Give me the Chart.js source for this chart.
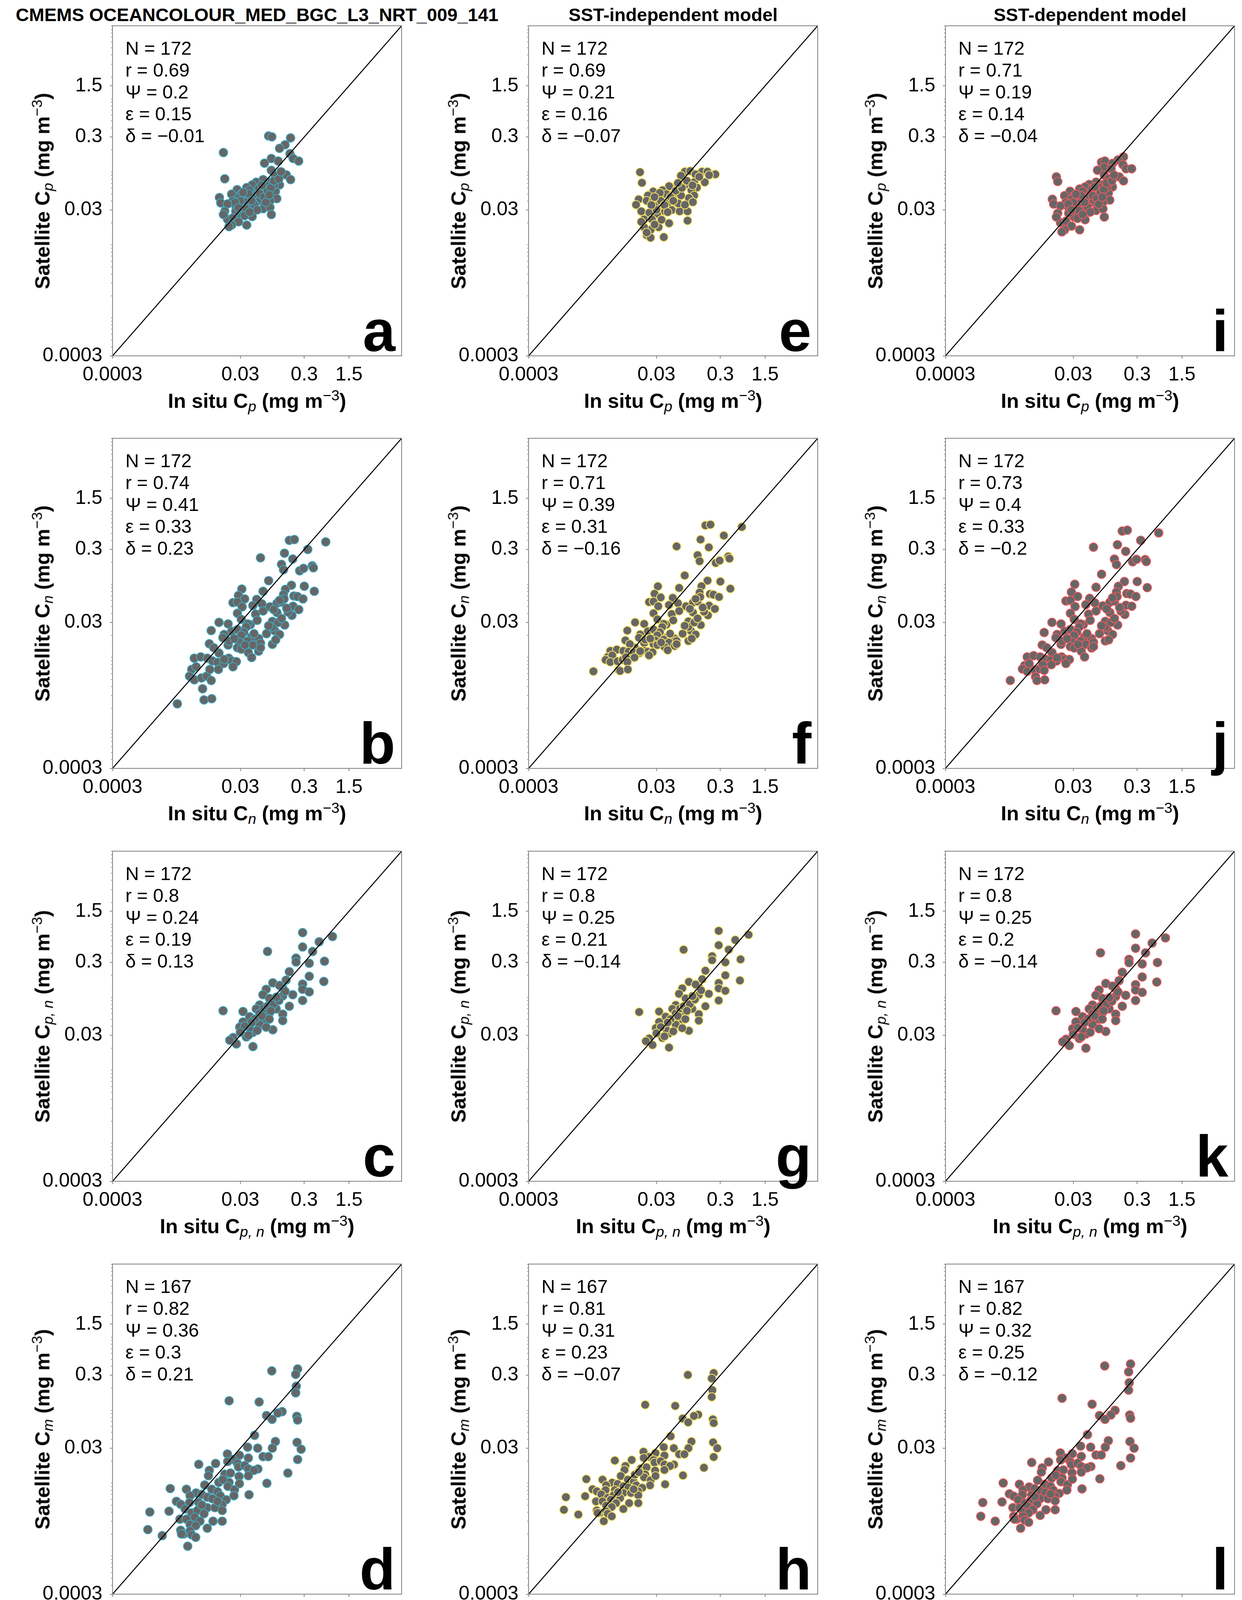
<!DOCTYPE html>
<html>
<head>
<meta charset="utf-8">
<script src="https://cdn.jsdelivr.net/npm/chart.js@4.4.1/dist/chart.umd.min.js"></script>
<style>
html, body { margin: 0; padding: 0; background: #fff; }
#page {
    position: relative;
    width: 3179px;
    height: 4255px;
    overflow: hidden;
    background: #fff;
    color: #000;
    font-family: "Liberation Sans", Arial, Helvetica, sans-serif;
}
#page canvas { position: absolute; }
.coltitle { position: absolute; width: 1600px; text-align: center; font-weight: bold; font-size: 47px; line-height: 47px; white-space: nowrap; }
.stats { position: absolute; font-size: 48px; line-height: 56px; white-space: nowrap; }
.letter { position: absolute; width: 300px; text-align: right; font-weight: bold; font-size: 150px; line-height: 150px; }
.xt { position: absolute; text-align: center; font-weight: bold; font-size: 52px; line-height: 52px; white-space: nowrap; }
.yt { position: absolute; text-align: center; font-weight: bold; font-size: 52px; line-height: 52px; white-space: nowrap; transform: rotate(-90deg); transform-origin: 50% 50%; }
.sb { position: relative; top: 0.24em; font-size: 0.72em; font-style: italic; font-weight: normal; }
.sp { position: relative; top: -0.52em; font-size: 0.72em; font-weight: normal; }
</style>
</head>
<body>
<div id="page"></div>
<script>
// axis range and ticks (same for every panel, both axes)
const axisMin = 0.0003;
const axisMax = 10;
const tickValues = [0.0003, 0.03, 0.3, 1.5];
const tickLabels = ["0.0003", "0.03", "0.3", "1.5"];

const colTitles = [
    "CMEMS OCEANCOLOUR_MED_BGC_L3_NRT_009_141",
    "SST-independent model",
    "SST-dependent model"
];
const rowSubscripts = ["p", "n", "p, n", "m"];
const edgeColors = ["#3FA8BF", "#F6E163", "#EE5A5E"];
const markerFill = "#666666";
const frameColor = "#808080";

// panel order: a b c d (CMEMS), e f g h (SST-independent), i j k l (SST-dependent)
const panelLetters = ["a", "b", "c", "d", "e", "f", "g", "h", "i", "j", "k", "l"];
const statN = [172, 172, 172, 167, 172, 172, 172, 167, 172, 172, 172, 167];
const statR = ["0.69", "0.74", "0.8", "0.82", "0.69", "0.71", "0.8", "0.81", "0.71", "0.73", "0.8", "0.82"];
const statPsi = ["0.2", "0.41", "0.24", "0.36", "0.21", "0.39", "0.25", "0.31", "0.19", "0.4", "0.25", "0.32"];
const statEps = ["0.15", "0.33", "0.19", "0.3", "0.16", "0.31", "0.21", "0.23", "0.14", "0.33", "0.2", "0.25"];
const statDelta = ["\u22120.01", "0.23", "0.13", "0.21", "\u22120.07", "\u22120.16", "\u22120.14", "\u22120.07", "\u22120.04", "\u22120.2", "\u22120.14", "\u22120.12"];

// [in situ, satellite] in mg m-3

// Cp
const cpCmems = [
    [0.083,0.309],[0.0933,0.301],[0.183,0.291],[0.0163,0.183],[0.150,0.234],[0.123,0.209],[0.179,0.177],[0.201,0.152],
    [0.245,0.140],[0.0916,0.152],[0.0716,0.131],[0.117,0.140],[0.0916,0.1045],[0.157,0.0906],[0.183,0.078],[0.106,0.0883],
    [0.0171,0.080],[0.123,0.066],[0.0871,0.0718],[0.0681,0.078],[0.0532,0.0718],[0.0459,0.066],[0.0377,0.0607],[0.0267,0.0569],
    [0.0219,0.0493],[0.0309,0.0493],[0.0395,0.0454],[0.0558,0.0536],[0.0752,0.0493],[0.106,0.0536],[0.1114,0.0428],[0.0871,0.040],
    [0.0649,0.040],[0.0532,0.0473],[0.0482,0.0368],[0.0681,0.0312],[0.0871,0.0325],[0.0916,0.0259],[0.0617,0.0428],[0.0359,0.0384],
    [0.0281,0.0436],[0.0230,0.040],[0.0141,0.0443],[0.0148,0.0374],[0.0189,0.0362],[0.0254,0.0339],[0.0325,0.0299],[0.0437,0.0312],
    [0.0459,0.0243],[0.0309,0.0259],[0.0254,0.0287],[0.0171,0.0287],[0.0189,0.0223],[0.0230,0.0233],[0.0281,0.0206],[0.0219,0.0186],
    [0.0199,0.0177],[0.0377,0.0186],[0.0163,0.0259],[0.0416,0.0558],[0.0359,0.0312],[0.0587,0.0597],[0.0789,0.0634],[0.101,0.066],
    [0.030,0.040],[0.040,0.050],[0.050,0.035],[0.060,0.050],[0.035,0.025],[0.045,0.040],[0.070,0.045],[0.080,0.055],
    [0.025,0.038],[0.055,0.030],[0.065,0.065],[0.090,0.060],[0.100,0.075],[0.120,0.080],[0.033,0.052],[0.028,0.032],
    [0.042,0.028],[0.075,0.038],[0.085,0.048],[0.130,0.100]
];
const cpSstInd = [
    [0.0166,0.0986],[0.0178,0.0706],[0.0838,0.1002],[0.101,0.102],[0.155,0.1002],[0.188,0.1002],[0.250,0.0923],[0.1225,0.0923],
    [0.0726,0.0883],[0.1167,0.0718],[0.0838,0.066],[0.171,0.0718],[0.1285,0.0607],[0.106,0.0558],[0.1167,0.0473],[0.0966,0.0436],
    [0.1114,0.0384],[0.063,0.066],[0.0473,0.0634],[0.0373,0.0558],[0.0267,0.0536],[0.0221,0.0473],[0.0158,0.0418],[0.0144,0.0353],
    [0.0174,0.0287],[0.0211,0.040],[0.0267,0.040],[0.0324,0.0436],[0.0431,0.0493],[0.0573,0.0514],[0.0726,0.0473],[0.060,0.0384],
    [0.0451,0.0368],[0.0373,0.0312],[0.052,0.0299],[0.0692,0.0287],[0.092,0.0287],[0.092,0.0214],[0.0473,0.0197],[0.0308,0.0264],
    [0.0232,0.0275],[0.0192,0.0223],[0.0255,0.0223],[0.0324,0.0174],[0.0243,0.016],[0.0192,0.0174],[0.0211,0.01355],[0.0243,0.0125],
    [0.0391,0.0127],[0.0174,0.0206],[0.0294,0.0339],[0.066,0.0368],[0.0838,0.0353],[0.0339,0.0514],[0.041,0.0287],[0.0281,0.0189],
    [0.0211,0.0147],
    [0.035,0.040],[0.050,0.045],[0.060,0.055],[0.030,0.030],[0.040,0.035],[0.075,0.060],[0.090,0.075],[0.140,0.085],
    [0.200,0.090],[0.055,0.040],[0.045,0.028],[0.028,0.045],[0.065,0.070],[0.110,0.065],[0.025,0.035],[0.036,0.022]
];
const cpSstDep = [
    [0.083,0.135],[0.0933,0.14],[0.183,0.16],[0.0163,0.085],[0.150,0.145],[0.123,0.13],[0.179,0.125],[0.201,0.11],
    [0.245,0.11],[0.0916,0.115],[0.0716,0.105],[0.117,0.11],[0.0916,0.09],[0.157,0.085],[0.183,0.075],[0.106,0.08],
    [0.0171,0.0735],[0.123,0.062],[0.0871,0.067],[0.0681,0.072],[0.0532,0.067],[0.0459,0.062],[0.0377,0.058],[0.0267,0.054],
    [0.0219,0.047],[0.0309,0.047],[0.0395,0.044],[0.0558,0.051],[0.0752,0.047],[0.106,0.051],[0.1114,0.041],[0.0871,0.038],
    [0.0649,0.038],[0.0532,0.045],[0.0482,0.035],[0.0681,0.0295],[0.0871,0.031],[0.0916,0.024],[0.0617,0.041],[0.0359,0.037],
    [0.0281,0.042],[0.0230,0.038],[0.0141,0.042],[0.0148,0.036],[0.0189,0.034],[0.0254,0.032],[0.0325,0.028],[0.0437,0.0295],
    [0.0459,0.022],[0.0309,0.024],[0.0254,0.027],[0.0171,0.027],[0.0189,0.020],[0.0230,0.021],[0.0281,0.018],[0.0219,0.016],
    [0.0199,0.015],[0.0377,0.016],[0.0163,0.024],[0.0416,0.054],[0.0359,0.0295],[0.0587,0.058],[0.0789,0.06],[0.101,0.062],
    [0.030,0.038],[0.040,0.047],[0.050,0.033],[0.060,0.047],[0.035,0.023],[0.045,0.038],[0.070,0.043],[0.080,0.052],
    [0.025,0.036],[0.055,0.028],[0.065,0.062],[0.090,0.057],[0.100,0.07],[0.120,0.075],[0.033,0.049],[0.028,0.030],
    [0.042,0.026],[0.075,0.036],[0.085,0.045],[0.130,0.09]
];

// Cn
const cnCmems = [
    [0.175,0.40],[0.21,0.41],[0.65,0.38],[0.34,0.30],[0.147,0.266],[0.062,0.23],[0.198,0.222],[0.132,0.187],
    [0.142,0.158],[0.254,0.153],[0.292,0.165],[0.40,0.179],[0.416,0.168],[0.083,0.112],[0.30,0.094],[0.43,0.080],
    [0.189,0.097],[0.152,0.085],[0.142,0.072],[0.206,0.069],[0.234,0.068],[0.286,0.063],[0.068,0.080],[0.0316,0.086],
    [0.028,0.070],[0.035,0.063],[0.023,0.056],[0.027,0.057],[0.032,0.049],[0.054,0.062],[0.047,0.051],[0.065,0.054],
    [0.087,0.049],[0.112,0.055],[0.132,0.057],[0.20,0.050],[0.246,0.045],[0.192,0.0375],[0.167,0.0416],[0.027,0.040],
    [0.031,0.033],[0.052,0.039],[0.068,0.043],[0.112,0.041],[0.0139,0.030],[0.0193,0.0286],[0.0105,0.0232],[0.095,0.031],
    [0.148,0.0276],[0.043,0.028],[0.055,0.032],[0.039,0.0286],[0.037,0.026],[0.022,0.0227],[0.027,0.024],[0.034,0.022],
    [0.0167,0.0205],[0.016,0.0185],[0.031,0.020],[0.045,0.019],[0.058,0.018],[0.049,0.021],[0.077,0.021],[0.104,0.023],
    [0.123,0.0205],[0.095,0.015],[0.107,0.0173],[0.0098,0.0153],[0.0193,0.0147],[0.020,0.0166],[0.029,0.016],[0.039,0.0166],
    [0.047,0.0147],[0.062,0.0156],[0.027,0.0135],[0.031,0.0129],[0.040,0.0116],[0.045,0.0099],[0.058,0.0121],[0.062,0.0135],
    [0.0139,0.0114],[0.0115,0.0135],[0.0057,0.0097],[0.0072,0.0101],[0.0091,0.0097],[0.011,0.0089],[0.0132,0.0085],[0.0164,0.0082],
    [0.0197,0.0097],[0.022,0.0089],[0.026,0.0087],[0.023,0.0074],[0.0136,0.0068],[0.0167,0.0093],[0.0052,0.0068],[0.0061,0.0074],
    [0.0048,0.0055],[0.0057,0.0049],[0.0074,0.0052],[0.0089,0.0055],[0.010,0.0068],[0.0105,0.0048],[0.0077,0.0037],[0.0081,0.0026],
    [0.0107,0.0027],[0.0031,0.0023],[0.095,0.026],[0.083,0.027],[0.117,0.030],[0.132,0.034],[0.159,0.047],[0.10,0.045],
    [0.145,0.063],[0.123,0.060],[0.024,0.018],[0.0355,0.0147]
];
const cnSstInd = [
    [0.175,0.64],[0.21,0.656],[0.65,0.61],[0.34,0.465],[0.147,0.41],[0.062,0.33],[0.198,0.32],[0.132,0.25],
    [0.142,0.207],[0.254,0.196],[0.292,0.211],[0.40,0.24],[0.416,0.225],[0.083,0.132],[0.30,0.109],[0.43,0.087],
    [0.189,0.112],[0.152,0.094],[0.142,0.077],[0.206,0.0735],[0.234,0.072],[0.286,0.067],[0.068,0.089],[0.0316,0.0935],
    [0.028,0.074],[0.035,0.066],[0.023,0.057],[0.027,0.058],[0.032,0.050],[0.054,0.065],[0.047,0.052],[0.065,0.055],
    [0.087,0.050],[0.112,0.056],[0.132,0.058],[0.20,0.051],[0.246,0.046],[0.192,0.0375],[0.167,0.042],[0.027,0.040],
    [0.031,0.033],[0.052,0.039],[0.068,0.043],[0.112,0.041],[0.0139,0.030],[0.0193,0.0286],[0.0105,0.0232],[0.095,0.031],
    [0.148,0.0276],[0.043,0.028],[0.055,0.032],[0.039,0.0286],[0.037,0.026],[0.022,0.0227],[0.027,0.024],[0.034,0.022],
    [0.0167,0.0205],[0.016,0.0185],[0.031,0.020],[0.045,0.019],[0.058,0.018],[0.049,0.021],[0.077,0.021],[0.104,0.023],
    [0.123,0.0205],[0.095,0.0167],[0.107,0.018],[0.0098,0.017],[0.0193,0.0157],[0.020,0.0174],[0.029,0.017],[0.039,0.0174],
    [0.047,0.0159],[0.062,0.0167],[0.027,0.0151],[0.031,0.0147],[0.040,0.0139],[0.045,0.0125],[0.058,0.0143],[0.062,0.0151],
    [0.0139,0.0135],[0.0115,0.0151],[0.0057,0.0122],[0.0072,0.0127],[0.0091,0.0122],[0.011,0.0119],[0.0132,0.0117],[0.0164,0.0115],
    [0.0197,0.0122],[0.022,0.0119],[0.026,0.0117],[0.023,0.0106],[0.0136,0.0099],[0.0167,0.0121],[0.0052,0.0101],[0.0061,0.0106],
    [0.0048,0.0092],[0.0057,0.0086],[0.0074,0.0088],[0.0089,0.0092],[0.010,0.010],[0.0105,0.0086],[0.0077,0.0067],[0.0081,0.0065],
    [0.0107,0.0068],[0.0031,0.0064],[0.095,0.026],[0.083,0.027],[0.117,0.030],[0.132,0.034],[0.159,0.048],[0.10,0.046],
    [0.145,0.067],[0.123,0.063],[0.024,0.018],[0.0355,0.0159]
];
const cnSstDep = [
    [0.175,0.536],[0.21,0.55],[0.65,0.505],[0.34,0.40],[0.147,0.348],[0.062,0.322],[0.198,0.282],[0.132,0.221],
    [0.142,0.186],[0.254,0.203],[0.292,0.219],[0.40,0.218],[0.416,0.205],[0.083,0.137],[0.30,0.109],[0.43,0.090],
    [0.189,0.109],[0.152,0.0935],[0.142,0.078],[0.206,0.0745],[0.234,0.0734],[0.286,0.068],[0.068,0.091],[0.0316,0.100],
    [0.028,0.078],[0.035,0.068],[0.023,0.059],[0.027,0.060],[0.032,0.0495],[0.054,0.064],[0.047,0.0525],[0.065,0.0556],
    [0.087,0.0505],[0.112,0.0567],[0.132,0.0587],[0.20,0.0515],[0.246,0.050],[0.192,0.0386],[0.167,0.0428],[0.027,0.040],
    [0.031,0.033],[0.052,0.039],[0.068,0.043],[0.112,0.041],[0.0139,0.030],[0.0193,0.0286],[0.0105,0.0218],[0.095,0.031],
    [0.148,0.0276],[0.043,0.028],[0.055,0.032],[0.039,0.0286],[0.037,0.026],[0.022,0.0227],[0.027,0.024],[0.034,0.022],
    [0.0167,0.0205],[0.016,0.0185],[0.031,0.020],[0.045,0.019],[0.058,0.018],[0.049,0.021],[0.077,0.021],[0.104,0.023],
    [0.123,0.0205],[0.095,0.0167],[0.107,0.0173],[0.0098,0.0147],[0.0193,0.015],[0.020,0.0166],[0.029,0.016],[0.039,0.0166],
    [0.047,0.015],[0.062,0.016],[0.027,0.014],[0.031,0.0134],[0.040,0.0121],[0.045,0.0101],[0.058,0.0134],[0.062,0.014],
    [0.0139,0.0116],[0.0115,0.0135],[0.0057,0.0101],[0.0072,0.0105],[0.0091,0.0101],[0.011,0.0094],[0.0132,0.0091],[0.0164,0.0089],
    [0.0197,0.0101],[0.022,0.0094],[0.026,0.0093],[0.023,0.0082],[0.0136,0.0079],[0.0167,0.0098],[0.0052,0.0077],[0.0061,0.0082],
    [0.0048,0.0069],[0.0057,0.0064],[0.0074,0.0067],[0.0089,0.0069],[0.010,0.0079],[0.0105,0.0066],[0.0077,0.0054],[0.0081,0.0048],
    [0.0107,0.0049],[0.0031,0.0048],[0.095,0.026],[0.083,0.027],[0.117,0.030],[0.132,0.034],[0.159,0.048],[0.10,0.046],
    [0.145,0.068],[0.123,0.065],[0.024,0.018],[0.0355,0.015]
];

// Cp,n
const cpnCmems = [
    [0.2825,0.765],[0.828,0.676],[0.513,0.573],[0.2825,0.486],[0.0798,0.422],[0.405,0.422],[0.223,0.343],[0.621,0.310],
    [0.223,0.303],[0.359,0.291],[0.175,0.223],[0.359,0.193],[0.607,0.164],[0.156,0.171],[0.0966,0.157],[0.2825,0.151],
    [0.076,0.128],[0.138,0.133],[0.2825,0.128],[0.359,0.118],[0.0676,0.108],[0.138,0.104],[0.2825,0.090],[0.109,0.088],
    [0.060,0.078],[0.175,0.075],[0.0161,0.065],[0.033,0.0635],[0.0532,0.069],[0.0857,0.061],[0.138,0.0585],[0.0419,0.054],
    [0.076,0.0497],[0.138,0.0477],[0.033,0.0457],[0.060,0.0422],[0.0293,0.0388],[0.0966,0.0357],[0.0472,0.0329],[0.0231,0.0279],
    [0.0372,0.0285],[0.026,0.0228],[0.0472,0.021],[0.076,0.0388],[0.109,0.069],[0.198,0.108],[0.0857,0.096],[0.123,0.1445],
    [0.0419,0.038],[0.0205,0.0257],
    [0.05,0.05],[0.06,0.06],[0.07,0.07],[0.08,0.075],[0.1,0.08],[0.045,0.045],[0.035,0.04],[0.065,0.055],
    [0.09,0.065],[0.12,0.09],[0.15,0.12],[0.055,0.035],[0.04,0.03],[0.03,0.033],[0.11,0.1],[0.085,0.05]
];
const cpnSstInd = [
    [0.2825,0.81],[0.828,0.717],[0.513,0.607],[0.2825,0.515],[0.0798,0.447],[0.405,0.447],[0.223,0.364],[0.621,0.329],
    [0.223,0.321],[0.359,0.30],[0.175,0.23],[0.359,0.199],[0.607,0.169],[0.156,0.176],[0.0966,0.162],[0.2825,0.156],
    [0.076,0.132],[0.138,0.137],[0.2825,0.132],[0.359,0.122],[0.0676,0.111],[0.138,0.107],[0.2825,0.090],[0.109,0.088],
    [0.060,0.078],[0.175,0.075],[0.0161,0.0625],[0.033,0.0635],[0.0532,0.069],[0.0857,0.061],[0.138,0.0585],[0.0419,0.054],
    [0.076,0.0497],[0.138,0.0477],[0.033,0.0457],[0.060,0.0422],[0.0293,0.0376],[0.0966,0.0346],[0.0472,0.0319],[0.0231,0.0271],
    [0.0372,0.0276],[0.026,0.0221],[0.0472,0.0204],[0.076,0.0376],[0.109,0.069],[0.198,0.111],[0.0857,0.096],[0.123,0.149],
    [0.0419,0.0369],[0.0205,0.0249],
    [0.05,0.05],[0.06,0.06],[0.07,0.07],[0.08,0.075],[0.1,0.08],[0.045,0.045],[0.035,0.039],[0.065,0.055],
    [0.09,0.065],[0.12,0.093],[0.15,0.124],[0.055,0.034],[0.04,0.029],[0.03,0.032],[0.11,0.103],[0.085,0.05]
];
const cpnSstDep = [
    [0.2825,0.734],[0.828,0.649],[0.513,0.55],[0.2825,0.467],[0.0798,0.405],[0.405,0.405],[0.223,0.329],[0.621,0.298],
    [0.223,0.297],[0.359,0.285],[0.175,0.219],[0.359,0.189],[0.607,0.161],[0.156,0.168],[0.0966,0.154],[0.2825,0.148],
    [0.076,0.125],[0.138,0.130],[0.2825,0.125],[0.359,0.116],[0.0676,0.106],[0.138,0.102],[0.2825,0.090],[0.109,0.088],
    [0.060,0.078],[0.175,0.075],[0.0161,0.065],[0.033,0.0635],[0.0532,0.069],[0.0857,0.061],[0.138,0.0585],[0.0419,0.054],
    [0.076,0.0497],[0.138,0.0477],[0.033,0.0457],[0.060,0.0422],[0.0293,0.0369],[0.0966,0.0339],[0.0472,0.0313],[0.0231,0.0265],
    [0.0372,0.0271],[0.026,0.0217],[0.0472,0.020],[0.076,0.0369],[0.109,0.069],[0.198,0.106],[0.0857,0.096],[0.123,0.142],
    [0.0419,0.0361],[0.0205,0.0244],
    [0.05,0.05],[0.06,0.06],[0.07,0.07],[0.08,0.075],[0.1,0.08],[0.045,0.045],[0.035,0.038],[0.065,0.055],
    [0.09,0.065],[0.12,0.088],[0.15,0.118],[0.055,0.033],[0.04,0.0285],[0.03,0.031],[0.11,0.098],[0.085,0.05]
];

// Cm
const cmCmems = [
    [0.093,0.344],[0.236,0.365],[0.22,0.308],[0.225,0.212],[0.22,0.172],[0.020,0.134],[0.059,0.129],[0.135,0.095],
    [0.116,0.091],[0.077,0.084],[0.094,0.0745],[0.229,0.082],[0.236,0.073],[0.050,0.045],[0.106,0.037],[0.231,0.036],
    [0.268,0.029],[0.095,0.030],[0.056,0.030],[0.039,0.031],[0.236,0.021],[0.068,0.023],[0.082,0.023],[0.040,0.022],
    [0.0188,0.025],[0.029,0.024],[0.023,0.021],[0.019,0.0197],[0.027,0.0185],[0.0067,0.018],[0.0123,0.0185],[0.028,0.0166],
    [0.035,0.0173],[0.040,0.0156],[0.0565,0.0156],[0.049,0.0149],[0.166,0.0137],[0.0098,0.0149],[0.0171,0.0132],[0.021,0.0137],
    [0.0286,0.0123],[0.040,0.0126],[0.0095,0.0126],[0.078,0.0099],[0.020,0.0102],[0.0192,0.009],[0.0243,0.0081],[0.0238,0.0067],
    [0.041,0.0069],[0.0083,0.0094],[0.0107,0.0082],[0.0132,0.0076],[0.0145,0.0067],[0.018,0.0059],[0.0024,0.0084],[0.0043,0.0082],
    [0.0061,0.0073],[0.0049,0.0067],[0.0074,0.0070],[0.0091,0.0064],[0.0109,0.0061],[0.0030,0.0056],[0.0035,0.0051],[0.0048,0.0054],
    [0.0067,0.0054],[0.0156,0.0051],[0.0091,0.0046],[0.012,0.0046],[0.0023,0.0041],[0.00115,0.0040],[0.0041,0.0044],[0.0052,0.0039],
    [0.0064,0.0042],[0.0081,0.0038],[0.0156,0.0042],[0.0034,0.0032],[0.0043,0.0032],[0.0058,0.0034],[0.0070,0.0030],[0.0112,0.0030],
    [0.0156,0.0030],[0.0049,0.0027],[0.0060,0.0026],[0.00107,0.0023],[0.0035,0.00225],[0.0039,0.0020],[0.0049,0.0022],[0.0091,0.0024],
    [0.0018,0.0019],[0.0052,0.00195],[0.0060,0.0018],[0.0045,0.00136],[0.0036,0.0020],[0.0075,0.0050],[0.0138,0.0102],[0.0159,0.0111],
    [0.029,0.0098],[0.0132,0.0056]
];
const cmSstInd = [
    [0.093,0.303],[0.236,0.321],[0.22,0.271],[0.225,0.187],[0.22,0.151],[0.020,0.118],[0.059,0.114],[0.135,0.0865],
    [0.116,0.083],[0.077,0.0764],[0.094,0.0678],[0.229,0.0746],[0.236,0.0664],[0.050,0.0437],[0.106,0.037],[0.231,0.036],
    [0.268,0.030],[0.095,0.030],[0.056,0.030],[0.039,0.031],[0.236,0.0227],[0.068,0.0248],[0.082,0.0248],[0.040,0.0238],
    [0.0188,0.0268],[0.029,0.0257],[0.023,0.0227],[0.019,0.0221],[0.027,0.0207],[0.0067,0.0203],[0.0123,0.0207],[0.028,0.0191],
    [0.035,0.0199],[0.040,0.0179],[0.0565,0.0179],[0.049,0.0171],[0.166,0.0162],[0.0098,0.0171],[0.0171,0.0158],[0.021,0.0164],
    [0.0286,0.0148],[0.040,0.0151],[0.0095,0.0151],[0.078,0.0127],[0.020,0.0131],[0.0192,0.012],[0.0243,0.0109],[0.0238,0.0093],
    [0.041,0.0096],[0.0083,0.0125],[0.0107,0.0111],[0.0132,0.0104],[0.0145,0.0093],[0.018,0.0086],[0.0024,0.0113],[0.0043,0.0111],
    [0.0061,0.0101],[0.0049,0.0093],[0.0074,0.0097],[0.0091,0.009],[0.0109,0.0087],[0.0030,0.0082],[0.0035,0.0077],[0.0048,0.008],
    [0.0067,0.008],[0.0156,0.0077],[0.0091,0.0073],[0.012,0.0073],[0.0023,0.0066],[0.00115,0.0064],[0.0041,0.007],[0.0052,0.0063],
    [0.0064,0.0068],[0.0081,0.0062],[0.0156,0.0068],[0.0034,0.0056],[0.0043,0.0056],[0.0058,0.0059],[0.0070,0.0053],[0.0112,0.0053],
    [0.0156,0.0053],[0.0049,0.0049],[0.0060,0.0047],[0.00107,0.0043],[0.0035,0.0042],[0.0039,0.0039],[0.0049,0.0041],[0.0091,0.0044],
    [0.0018,0.0037],[0.0052,0.0038],[0.0060,0.0035],[0.0045,0.003],[0.0036,0.0039],[0.0075,0.0075],[0.0138,0.013],[0.0159,0.0141],
    [0.029,0.0125],[0.0132,0.0082]
];
const cmSstDep = [
    [0.093,0.402],[0.236,0.427],[0.22,0.333],[0.225,0.237],[0.22,0.187],[0.020,0.145],[0.059,0.12],[0.135,0.099],
    [0.116,0.0855],[0.077,0.084],[0.094,0.0745],[0.229,0.0853],[0.236,0.0774],[0.050,0.046],[0.106,0.038],[0.231,0.037],
    [0.268,0.030],[0.095,0.031],[0.056,0.031],[0.039,0.032],[0.236,0.022],[0.068,0.0242],[0.082,0.0242],[0.040,0.0231],
    [0.0188,0.0258],[0.029,0.0252],[0.023,0.022],[0.019,0.0207],[0.027,0.0194],[0.0067,0.0191],[0.0123,0.0194],[0.028,0.0179],
    [0.035,0.0187],[0.040,0.0168],[0.0565,0.0168],[0.049,0.0161],[0.166,0.0173],[0.0098,0.0161],[0.0171,0.0148],[0.021,0.0151],
    [0.0286,0.0138],[0.040,0.0141],[0.0095,0.0141],[0.078,0.0114],[0.020,0.0117],[0.0192,0.0104],[0.0243,0.0095],[0.0238,0.008],
    [0.041,0.0083],[0.0083,0.0109],[0.0107,0.0096],[0.0132,0.009],[0.0145,0.008],[0.018,0.0072],[0.0024,0.01],[0.0043,0.0096],
    [0.0061,0.0088],[0.0049,0.008],[0.0074,0.0084],[0.0091,0.0078],[0.0109,0.0074],[0.0030,0.0071],[0.0035,0.0066],[0.0048,0.0069],
    [0.0067,0.0069],[0.0156,0.0066],[0.0091,0.0061],[0.012,0.0061],[0.0023,0.0055],[0.00115,0.0054],[0.0041,0.0059],[0.0052,0.0053],
    [0.0064,0.0057],[0.0081,0.0052],[0.0156,0.0057],[0.0034,0.0046],[0.0043,0.0046],[0.0058,0.0048],[0.0070,0.0043],[0.0112,0.0043],
    [0.0156,0.0043],[0.0049,0.004],[0.0060,0.0039],[0.00107,0.0035],[0.0035,0.0035],[0.0039,0.0032],[0.0049,0.0035],[0.0091,0.0036],
    [0.0018,0.003],[0.0052,0.0031],[0.0060,0.0029],[0.0045,0.0024],[0.0036,0.0032],[0.0075,0.0065],[0.0138,0.0117],[0.0159,0.0127],
    [0.029,0.0113],[0.0132,0.0071]
];

const panelData = [
    cpCmems, cnCmems, cpnCmems, cmCmems,
    cpSstInd, cnSstInd, cpnSstInd, cmSstInd,
    cpSstDep, cnSstDep, cpnSstDep, cmSstDep
];

// layout (page pixels)
const colLeft = [288, 1353, 2420];
const rowBottom = [911, 1967, 3024, 4081];
const plotW = 740;
const plotH = 845;
const padL = 230, padT = 30, padR = 40, padB = 80;
const fontFamily = "'Liberation Sans', Arial, Helvetica, sans-serif";

// y-axis minor ticks at n * 10^k
const minorTicks = [];
for (let k = -4; k <= 1; k++) {
    for (let n = 1; n <= 9; n++) {
        const v = Number((n * Math.pow(10, k)).toPrecision(3));
        if (v >= axisMin && v <= axisMax && tickValues.indexOf(v) < 0) minorTicks.push(v);
    }
}

const framePlugin = {
    id: "frame",
    afterDraw(chart) {
        const ctx = chart.ctx;
        const a = chart.chartArea;
        const y = chart.scales.y;
        ctx.save();
        ctx.strokeStyle = frameColor;
        ctx.lineWidth = 2;
        ctx.strokeRect(a.left, a.top, a.right - a.left, a.bottom - a.top);
        ctx.lineWidth = 1.5;
        ctx.beginPath();
        minorTicks.forEach(v => {
            const py = Math.round(y.getPixelForValue(v)) + 0.5;
            ctx.moveTo(a.left - 4, py);
            ctx.lineTo(a.left, py);
        });
        ctx.stroke();
        ctx.restore();
    }
};

function axisOptions(axis) {
    return {
        type: "logarithmic",
        position: axis === "x" ? "bottom" : "left",
        min: axisMin,
        max: axisMax,
        border: { display: false },
        grid: {
            display: true,
            drawOnChartArea: false,
            drawTicks: true,
            tickLength: 7,
            tickWidth: 2,
            tickColor: frameColor
        },
        ticks: {
            autoSkip: false,
            maxRotation: 0,
            minRotation: 0,
            color: "#000",
            padding: axis === "x" ? 12 : 19,
            font: { family: fontFamily, size: 50 },
            callback: (value, index) => tickLabels[index]
        },
        afterBuildTicks: scale => {
            scale.ticks = tickValues.map(v => ({ value: v }));
        },
        afterFit: scale => {
            if (axis === "x") scale.height = padB;
            else scale.width = padL;
            scale.paddingTop = 0;
            scale.paddingBottom = 0;
            scale.paddingLeft = 0;
            scale.paddingRight = 0;
        }
    };
}

const page = document.getElementById("page");

function place(cls, html, left, top, extra) {
    const el = document.createElement("div");
    el.className = cls;
    el.innerHTML = html;
    el.style.left = left + "px";
    el.style.top = top + "px";
    if (extra) Object.assign(el.style, extra);
    page.appendChild(el);
    return el;
}

function quantity(sub) {
    return 'C<span class="sb">' + sub + '</span> (mg m<span class="sp">\u22123</span>)';
}

for (let c = 0; c < 3; c++) {
    place("coltitle", colTitles[c], colLeft[c] + plotW / 2 - 800, 14);

    for (let r = 0; r < 4; r++) {
        const idx = c * 4 + r;
        const L = colLeft[c];
        const B = rowBottom[r];
        const T = B - plotH;

        const canvas = document.createElement("canvas");
        canvas.width = padL + plotW + padR;
        canvas.height = padT + plotH + padB;
        canvas.style.left = (L - padL) + "px";
        canvas.style.top = (T - padT) + "px";
        canvas.style.width = canvas.width + "px";
        canvas.style.height = canvas.height + "px";
        page.appendChild(canvas);

        new Chart(canvas, {
            type: "scatter",
            data: {
                datasets: [
                    {
                        type: "line",
                        data: [{ x: axisMin, y: axisMin }, { x: axisMax, y: axisMax }],
                        showLine: true,
                        borderColor: "#000000",
                        borderWidth: 2.5,
                        pointRadius: 0,
                        fill: false
                    },
                    {
                        data: panelData[idx].map(p => ({ x: p[0], y: p[1] })),
                        backgroundColor: markerFill,
                        borderColor: edgeColors[c],
                        borderWidth: 2,
                        pointRadius: 11,
                        pointHoverRadius: 11
                    }
                ]
            },
            options: {
                responsive: false,
                animation: false,
                devicePixelRatio: 1,
                events: [],
                layout: { padding: { left: 0, top: padT, right: padR, bottom: 0 } },
                plugins: {
                    legend: { display: false },
                    tooltip: { enabled: false }
                },
                scales: {
                    x: axisOptions("x"),
                    y: axisOptions("y")
                }
            },
            plugins: [framePlugin]
        });

        place("stats",
            "N = " + statN[idx] + "<br>r = " + statR[idx] + "<br>\u03A8 = " + statPsi[idx] +
            "<br>\u03B5 = " + statEps[idx] + "<br>\u03B4 = " + statDelta[idx],
            L + 33, T + 30);

        place("letter", panelLetters[idx], L + plotW - 16 - 300, B - 139);

        place("xt", "In situ " + quantity(rowSubscripts[r]), L, B + 89, { width: plotW + "px" });

        place("yt", "Satellite " + quantity(rowSubscripts[r]),
            L - 180 - plotH / 2, T + plotH / 2 - 26, { width: plotH + "px", height: "52px" });
    }
}
</script>
</body>
</html>
